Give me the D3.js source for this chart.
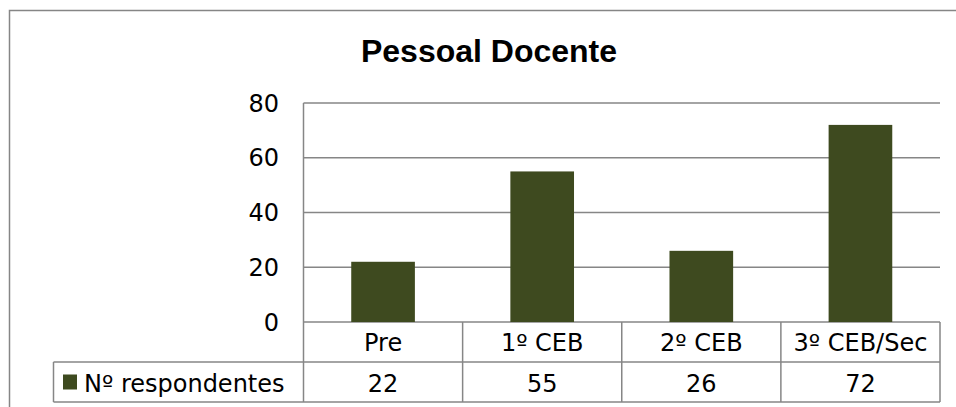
<!DOCTYPE html>
<html>
<head>
<meta charset="utf-8">
<script src="https://cdn.jsdelivr.net/npm/d3@7"></script>
<style>
  body { margin: 0; background: #fff; }
  svg { display: block; }
</style>
</head>
<body>
<div id="visual"></div>
<script>
const categories = ["Pre", "1º CEB", "2º CEB", "3º CEB/Sec"];
const respondentes = [22, 55, 26, 72];
const yTicks = [0, 20, 40, 60, 80];
const seriesName = "Nº respondentes";
const chartTitle = "Pessoal Docente";

const width = 956;
const height = 407;
const plotLeft = 303.5, plotRight = 940, plotTop = 103, plotZero = 322;
const rowH = 40;
const gray = "#868686";
const barColor = "#3e4a1f";
const font = "'DejaVu Sans', sans-serif";

const svg = d3.select("#visual")
    .append("svg")
    .attr("width", width)
    .attr("height", height);

// outer chart border (runs off the right and bottom)
svg.append("rect")
    .attr("x", 9.5).attr("y", 10.5)
    .attr("width", 1000).attr("height", 500)
    .attr("fill", "none").attr("stroke", gray).attr("stroke-width", 1.5);

svg.append("text")
    .attr("x", 489).attr("y", 62)
    .attr("text-anchor", "middle")
    .attr("font-family", "'Liberation Sans', Arial, sans-serif")
    .attr("font-weight", "bold")
    .attr("font-size", 32)
    .text(chartTitle);

const x = d3.scaleBand().domain(categories).range([plotLeft, plotRight]).paddingInner(0).paddingOuter(0);
const y = d3.scaleLinear().domain([0, 80]).range([plotZero, plotTop]);

// gridlines
svg.append("g")
    .selectAll("line")
    .data(yTicks)
    .enter()
    .append("line")
    .attr("x1", plotLeft).attr("x2", plotRight)
    .attr("y1", d => y(d)).attr("y2", d => y(d))
    .attr("stroke", gray).attr("stroke-width", 1.5);

// y tick labels
svg.append("g")
    .selectAll("text")
    .data(yTicks)
    .enter()
    .append("text")
    .attr("x", 279)
    .attr("y", d => y(d) + 8.5)
    .attr("text-anchor", "end")
    .attr("font-family", font)
    .attr("font-size", 24)
    .text(d => d);

// bars
const barW = x.bandwidth() * 0.4;
svg.append("g")
    .selectAll("rect")
    .data(respondentes)
    .enter()
    .append("rect")
    .attr("x", (d, i) => x(categories[i]) + (x.bandwidth() - barW) / 2)
    .attr("y", d => y(d))
    .attr("width", barW)
    .attr("height", d => y(0) - y(d))
    .attr("fill", barColor);

// data table
const table = svg.append("g");
const lineAttrs = sel => sel.attr("stroke", gray).attr("stroke-width", 1.5);

// vertical lines
const vx = [plotLeft].concat(categories.map(c => x(c) + x.bandwidth()));
vx.forEach(v => {
    table.append("line")
        .attr("x1", v).attr("x2", v)
        .attr("y1", v === plotLeft ? plotTop : plotZero).attr("y2", plotZero + 2 * rowH)
        .call(lineAttrs);
});
table.append("line")
    .attr("x1", 53.5).attr("x2", 53.5)
    .attr("y1", plotZero + rowH).attr("y2", plotZero + 2 * rowH)
    .call(lineAttrs);
// horizontal lines
table.append("line")
    .attr("x1", 53.5).attr("x2", plotRight)
    .attr("y1", plotZero + rowH).attr("y2", plotZero + rowH)
    .call(lineAttrs);
table.append("line")
    .attr("x1", 53.5).attr("x2", plotRight)
    .attr("y1", plotZero + 2 * rowH).attr("y2", plotZero + 2 * rowH)
    .call(lineAttrs);

table.selectAll("text.cat")
    .data(categories)
    .enter()
    .append("text")
    .attr("class", "cat")
    .attr("x", d => x(d) + x.bandwidth() / 2)
    .attr("y", plotZero + 29)
    .attr("text-anchor", "middle")
    .attr("font-family", font)
    .attr("font-size", 24)
    .text(d => d);

table.selectAll("text.val")
    .data(respondentes)
    .enter()
    .append("text")
    .attr("class", "val")
    .attr("x", (d, i) => x(categories[i]) + x.bandwidth() / 2)
    .attr("y", plotZero + rowH + 29.5)
    .attr("text-anchor", "middle")
    .attr("font-family", font)
    .attr("font-size", 24)
    .text(d => d);

// legend key
table.append("rect")
    .attr("x", 63).attr("y", 374.5)
    .attr("width", 14).attr("height", 15)
    .attr("fill", barColor);
table.append("text")
    .attr("x", 84)
    .attr("y", plotZero + rowH + 29.5)
    .attr("font-family", font)
    .attr("font-size", 24)
    .text(seriesName);
</script>
</body>
</html>
